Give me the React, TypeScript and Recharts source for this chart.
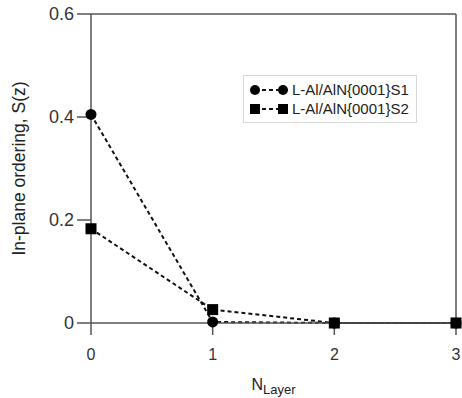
import React from 'react';
import { LineChart, Line, XAxis, YAxis, ReferenceLine, Legend } from 'recharts';

const layers = [0, 1, 2, 3];
const s1Values = [0.405, 0.002, 0, 0];
const s2Values = [0.183, 0.026, 0, 0];
const yTicks = [0, 0.2, 0.4, 0.6];
const seriesNames = ['L-Al/AlN{0001}S1', 'L-Al/AlN{0001}S2'];

const data = layers.map((n, i) => ({ n, s1: s1Values[i], s2: s2Values[i] }));

const FONT = '"Liberation Sans", Arial, Helvetica, sans-serif';
const AXIS_COLOR = '#555';
const INK = '#111';
const X_TICK_STYLE = { fill: '#333', fontSize: 16, fontFamily: FONT };
const Y_TICK_STYLE = { fill: '#333', fontSize: 18, fontFamily: FONT };

// Square marker for the second series
const SquareDot = (props: any) => {
  const { cx, cy } = props;
  if (cx == null || cy == null) return null;
  return <rect x={cx - 5.5} y={cy - 5.5} width={11} height={11} fill="#000" />;
};

const XLabel = (props: any) => {
  const { viewBox } = props;
  const cx = viewBox.x + viewBox.width / 2;
  return (
    <text x={cx} y={viewBox.y + 67} textAnchor="middle" fill="#222" fontFamily={FONT}>
      <tspan fontSize={16}>N</tspan>
      <tspan fontSize={13} dy={4}>Layer</tspan>
    </text>
  );
};

const YLabel = (props: any) => {
  const { viewBox } = props;
  const cy = viewBox.y + viewBox.height / 2;
  return (
    <text
      x={19}
      y={cy}
      textAnchor="middle"
      dominantBaseline="central"
      transform={`rotate(-90, 19, ${cy})`}
      fill="#222"
      fontSize={17.5}
      fontFamily={FONT}
    >
      In-plane ordering, S(z)
    </text>
  );
};

const LegendBox = () => (
  <div
    style={{
      border: '1px solid #d8d8d8',
      background: '#fff',
      padding: '4px 4px 4px 6px',
      fontFamily: FONT,
      fontSize: 15,
      color: '#222',
      lineHeight: '19px',
    }}
  >
    {seriesNames.map((name, i) => (
      <div key={name} style={{ display: 'flex', alignItems: 'center', whiteSpace: 'nowrap' }}>
        <svg width={38} height={14} style={{ marginRight: 4, flexShrink: 0 }}>
          <line x1={5} y1={7} x2={33} y2={7} stroke={INK} strokeWidth={2} strokeDasharray="4 3" />
          {i === 0 ? (
            <>
              <circle cx={5} cy={7} r={5} fill="#000" />
              <circle cx={33} cy={7} r={5} fill="#000" />
            </>
          ) : (
            <>
              <rect x={0} y={2} width={10} height={10} fill="#000" />
              <rect x={28} y={2} width={10} height={10} fill="#000" />
            </>
          )}
        </svg>
        <span>{name}</span>
      </div>
    ))}
  </div>
);

export default function App() {
  return (
    <div style={{ position: 'absolute', left: 0, top: 0, width: 462, height: 398, background: '#fff' }}>
      <LineChart width={462} height={398} data={data} margin={{ top: 14, right: 6, left: 0, bottom: 0 }}>
        <XAxis
          type="number"
          dataKey="n"
          domain={[0, 3]}
          ticks={layers}
          height={75}
          tickSize={12}
          tickMargin={14}
          tick={X_TICK_STYLE}
          axisLine={{ stroke: AXIS_COLOR, strokeWidth: 1.5 }}
          tickLine={{ stroke: AXIS_COLOR, strokeWidth: 1.5 }}
          label={<XLabel />}
        />
        <YAxis
          type="number"
          domain={[0, 0.6]}
          ticks={yTicks}
          width={91}
          tickSize={14}
          tickMargin={3}
          tick={Y_TICK_STYLE}
          tickFormatter={(v: number) => (v === 0 ? '0' : String(v))}
          axisLine={{ stroke: AXIS_COLOR, strokeWidth: 1.5 }}
          tickLine={{ stroke: AXIS_COLOR, strokeWidth: 1.5 }}
          label={<YLabel />}
        />
        <ReferenceLine y={0.6} stroke={AXIS_COLOR} strokeWidth={1.5} />
        <ReferenceLine x={3} stroke={AXIS_COLOR} strokeWidth={1.5} />
        <Legend
          layout="vertical"
          align="center"
          verticalAlign="middle"
          content={<LegendBox />}
          wrapperStyle={{ left: 243, top: 75, width: 174 }}
        />
        <Line
          type="linear"
          dataKey="s2"
          name={seriesNames[1]}
          stroke={INK}
          strokeWidth={2}
          strokeDasharray="4 3"
          dot={<SquareDot />}
          activeDot={false}
          isAnimationActive={false}
        />
        <Line
          type="linear"
          dataKey="s1"
          name={seriesNames[0]}
          stroke={INK}
          strokeWidth={2}
          strokeDasharray="4 3"
          dot={{ r: 5.5, fill: '#000', stroke: '#000', strokeWidth: 0 }}
          activeDot={false}
          isAnimationActive={false}
        />
      </LineChart>
    </div>
  );
}
